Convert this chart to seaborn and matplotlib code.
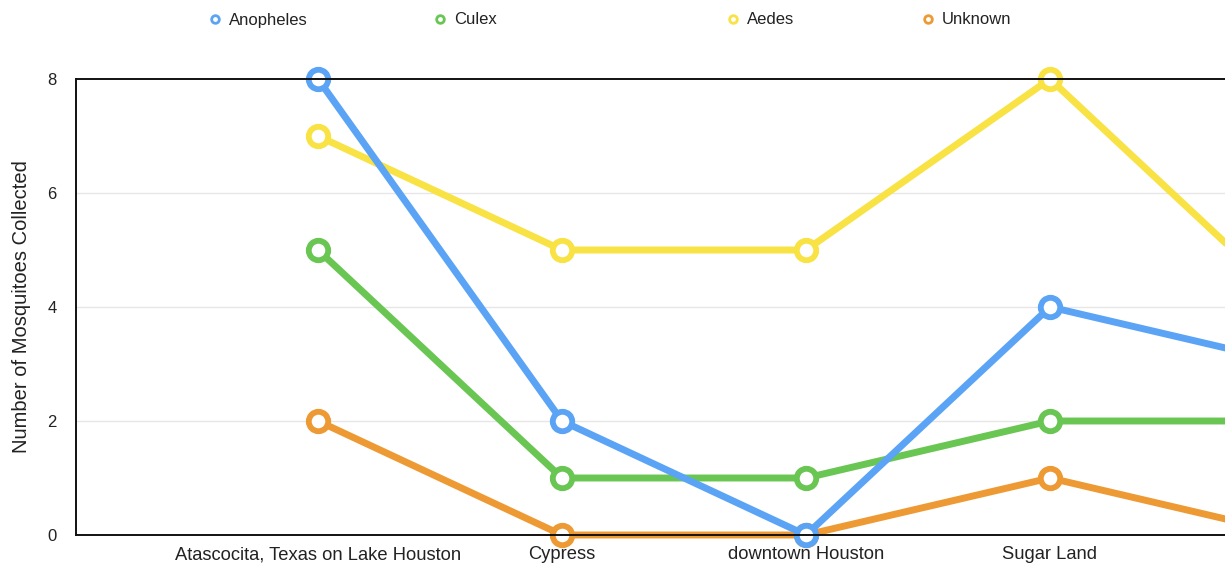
import pandas as pd
import matplotlib.pyplot as plt
import seaborn as sns
from matplotlib.lines import Line2D

## Data (the 5th site is cut off at the right edge)
sites = ["Atascocita, Texas on Lake Houston", "Cypress", "downtown Houston",
         "Sugar Land", "Site 5"]
anopheles = [8, 2, 0, 4, 3]
culex = [5, 1, 1, 2, 2]
aedes = [7, 5, 5, 8, 4]
unknown = [2, 0, 0, 1, 0]

genera = ["Anopheles", "Culex", "Aedes", "Unknown"]
colors = {"Anopheles": "#5ba4f5", "Culex": "#6ac653",
          "Aedes": "#f8e244", "Unknown": "#ee9a34"}
y_ticks = [0, 2, 4, 6, 8]

## Long-form table for seaborn
pos = list(range(1, len(sites) + 1))
df = pd.DataFrame({
    "pos": pos * 4,
    "site": sites * 4,
    "count": anopheles + culex + aedes + unknown,
    "genus": [g for g in genera for _ in sites],
})

sns.set_theme(style="white")
plt.rcParams['font.family'] = ['Liberation Sans', 'DejaVu Sans']

fig = plt.figure(figsize=(12.25, 5.65), dpi=100)
ax = fig.add_axes([76 / 1225, 1 - 535 / 565, 1 - 76 / 1225, (535 - 79) / 565])

# draw in reverse so Anopheles sits on top
for g in reversed(genera):
    sub = df[df["genus"] == g]
    sns.lineplot(data=sub, x="pos", y="count", ax=ax, color=colors[g],
                 linewidth=5, marker="o", markersize=14,
                 markerfacecolor="white", markeredgecolor=colors[g],
                 markeredgewidth=4.2, clip_on=False, legend=False)

ax.set_ylim(0, 8)
ax.set_xticks(pos)
ax.set_xticklabels(sites)
ax.set_yticks(y_ticks)
ax.set_xlabel("")
ax.set_ylabel("Number of Mosquitoes Collected", fontsize=14.5, labelpad=12,
              color="#222222")
ax.tick_params(axis="both", length=0, labelcolor="#222222")
ax.tick_params(axis="y", pad=14, labelsize=12)
ax.tick_params(axis="x", pad=8, labelsize=13.2)

for yv in [2, 4, 6]:
    ax.axhline(yv, color="#e6e6e6", linewidth=1, zorder=0)

for side in ["left", "top", "bottom"]:
    ax.spines[side].set_color("#111111")
    ax.spines[side].set_linewidth(1.4)
ax.spines["right"].set_visible(False)

## Legend entries, placed one by one to match the spacing in the original
legend_x = [215, 440, 733, 928]
fs = 12
half_handle = 0.6 * fs * 100 / 72 / 2
for g, mx in zip(genera, legend_x):
    h = Line2D([], [], linestyle="none", marker="o", markersize=5.5,
               markerfacecolor="white", markeredgecolor=colors[g],
               markeredgewidth=2)
    leg = fig.legend(handles=[h], labels=[g], loc="center left",
                     bbox_to_anchor=((mx - half_handle) / 1225, 1 - 20 / 565),
                     frameon=False, fontsize=fs, handlelength=0.6,
                     handletextpad=0.55, borderpad=0, borderaxespad=0)
    for t in leg.get_texts():
        t.set_color("#222222")

# x range: first site at 318 px, one site per 244 px, cut at the figure edge
x_left = 1 - (318 - 76) / 244
x_right = 1 + (1225 - 318) / 244
ax.set_xlim(x_left, x_right, auto=False)

fig.savefig("out.png", dpi=100)
